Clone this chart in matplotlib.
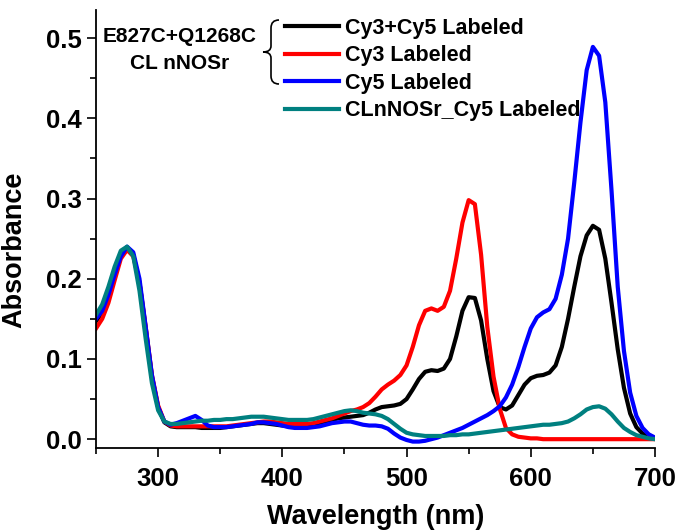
import matplotlib
matplotlib.use("Agg")
import matplotlib.pyplot as plt
from matplotlib.path import Path
from matplotlib.patches import PathPatch
from matplotlib.ticker import MultipleLocator
import numpy as np

plt.rcParams['font.family'] = ['Liberation Sans', 'DejaVu Sans']
plt.rcParams['font.weight'] = 'bold'

# wavelength grid (nm), 250..700 in 5 nm steps
wl = np.arange(250, 701, 5)

# Cy3+Cy5 Labeled
cy35 = [0.147, 0.158, 0.178, 0.205, 0.228, 0.238, 0.230, 0.195, 0.138, 0.078,
        0.040, 0.021, 0.016, 0.015, 0.015, 0.015, 0.015, 0.014, 0.014, 0.014,
        0.014, 0.015, 0.016, 0.017, 0.018, 0.019, 0.020, 0.020, 0.019, 0.018,
        0.017, 0.016, 0.016, 0.016, 0.017, 0.018, 0.020, 0.022, 0.024, 0.026,
        0.027, 0.028, 0.029, 0.030, 0.033, 0.037, 0.040, 0.041, 0.042, 0.044,
        0.050, 0.062, 0.075, 0.084, 0.086, 0.085, 0.088, 0.100, 0.128, 0.160,
        0.177, 0.176, 0.148, 0.100, 0.060, 0.040, 0.037, 0.042, 0.055, 0.068,
        0.076, 0.079, 0.080, 0.083, 0.092, 0.115, 0.150, 0.190, 0.228, 0.254,
        0.266, 0.261, 0.225, 0.170, 0.112, 0.064, 0.032, 0.015, 0.007, 0.003,
        0.001]

# Cy3 Labeled
cy3 = [0.138, 0.150, 0.170, 0.198, 0.225, 0.236, 0.228, 0.195, 0.140, 0.080,
       0.042, 0.022, 0.017, 0.016, 0.016, 0.016, 0.016, 0.016, 0.016, 0.016,
       0.016, 0.016, 0.017, 0.018, 0.019, 0.020, 0.021, 0.022, 0.022, 0.021,
       0.020, 0.019, 0.019, 0.019, 0.019, 0.020, 0.022, 0.024, 0.026, 0.029,
       0.032, 0.035, 0.037, 0.040, 0.045, 0.053, 0.062, 0.068, 0.073, 0.080,
       0.092, 0.115, 0.142, 0.160, 0.163, 0.160, 0.165, 0.185, 0.225, 0.270,
       0.298, 0.293, 0.230, 0.140, 0.078, 0.038, 0.014, 0.006, 0.003, 0.002,
       0.001, 0.001, 0.000, 0.000, 0.000, 0.000, 0.000, 0.000, 0.000, 0.000,
       0.000, 0.000, 0.000, 0.000, 0.000, 0.000, 0.000, 0.000, 0.000, 0.000,
       0.000]

# Cy5 Labeled
cy5 = [0.150, 0.160, 0.180, 0.205, 0.228, 0.240, 0.233, 0.200, 0.140, 0.080,
       0.040, 0.022, 0.018, 0.020, 0.023, 0.026, 0.029, 0.024, 0.017, 0.015,
       0.015, 0.015, 0.016, 0.017, 0.018, 0.019, 0.021, 0.021, 0.020, 0.019,
       0.017, 0.015, 0.014, 0.014, 0.014, 0.015, 0.016, 0.018, 0.020, 0.021,
       0.022, 0.022, 0.020, 0.018, 0.017, 0.017, 0.016, 0.013, 0.007, 0.002,
       -0.001, -0.003, -0.003, -0.002, 0.000, 0.002, 0.005, 0.008, 0.011, 0.014,
       0.018, 0.022, 0.026, 0.030, 0.035, 0.041, 0.052, 0.068, 0.090, 0.115,
       0.138, 0.152, 0.158, 0.162, 0.175, 0.205, 0.250, 0.320, 0.395, 0.460,
       0.489, 0.478, 0.420, 0.310, 0.190, 0.110, 0.058, 0.029, 0.014, 0.006,
       0.002]

# CLnNOSr_Cy5 Labeled
clcy5 = [0.155, 0.168, 0.190, 0.215, 0.235, 0.240, 0.228, 0.185, 0.125, 0.070,
         0.036, 0.022, 0.019, 0.019, 0.020, 0.021, 0.022, 0.023, 0.023, 0.024,
         0.024, 0.025, 0.025, 0.026, 0.027, 0.028, 0.028, 0.028, 0.027, 0.026,
         0.025, 0.024, 0.024, 0.024, 0.024, 0.025, 0.027, 0.029, 0.031, 0.033,
         0.035, 0.036, 0.035, 0.033, 0.032, 0.031, 0.029, 0.025, 0.019, 0.013,
         0.008, 0.006, 0.005, 0.004, 0.004, 0.004, 0.004, 0.005, 0.005, 0.006,
         0.006, 0.007, 0.008, 0.009, 0.010, 0.011, 0.012, 0.013, 0.014, 0.015,
         0.016, 0.017, 0.018, 0.018, 0.019, 0.020, 0.022, 0.026, 0.031, 0.037,
         0.040, 0.041, 0.038, 0.031, 0.022, 0.014, 0.009, 0.005, 0.003, 0.001,
         0.000]

series = [
    (cy35, 'black', 'Cy3+Cy5 Labeled'),
    (cy3, '#ff0000', 'Cy3 Labeled'),
    (cy5, '#0000ff', 'Cy5 Labeled'),
    (clcy5, '#008080', 'CLnNOSr_Cy5 Labeled'),
]

W, H = 677, 530
fig = plt.figure(figsize=(W / 100, H / 100), dpi=100)
ax = fig.add_axes([96 / W, 1 - 448 / H, (655 - 96) / W, (448 - 10) / H])

for y, c, lab in series:
    ax.plot(wl, y, color=c, lw=3, label=lab, solid_joinstyle='round')

ax.set_xlim(250, 700)
ax.set_ylim(-0.011, 0.535)
ax.xaxis.set_major_locator(MultipleLocator(100))
ax.xaxis.set_minor_locator(MultipleLocator(50))
ax.yaxis.set_major_locator(MultipleLocator(0.1))
ax.yaxis.set_minor_locator(MultipleLocator(0.05))
ax.yaxis.set_major_formatter(matplotlib.ticker.FormatStrFormatter('%.1f'))
ax.spines['top'].set_visible(False)
ax.spines['right'].set_visible(False)
for s in ['left', 'bottom']:
    ax.spines[s].set_linewidth(1.3)
ax.tick_params(which='major', direction='out', length=6.5, width=1.2, labelsize=18.5, pad=4)
ax.tick_params(which='minor', direction='out', length=4, width=1.2)
ax.tick_params(axis='x', which='major', pad=7)

ax.set_xlabel('Wavelength (nm)', fontsize=19.5, fontweight='bold')
ax.set_ylabel('Absorbance', fontsize=19.5, fontweight='bold')
ax.xaxis.set_label_coords(0.5, -0.128)
ax.yaxis.set_label_coords(-0.122, 0.452)

leg = ax.legend(loc='upper left', bbox_to_anchor=(285 / W, 1 - 18 / H),
                bbox_transform=fig.transFigure, frameon=False,
                fontsize=15.5, handlelength=2.5, handletextpad=0.3,
                labelspacing=0.3, borderpad=0, borderaxespad=0)
for t in leg.get_texts():
    t.set_fontweight('bold')

fig.text(180 / W, 1 - 50 / H, 'E827C+Q1268C\nCL nNOSr', ha='center', va='center',
         fontsize=15, fontweight='bold', linespacing=1.55)

# curly brace
pts = [(279, 20), (271, 20), (271, 28), (271, 46), (271, 52), (263, 52),
       (271, 52), (271, 58), (271, 76), (271, 84), (279, 84)]
codes = [Path.MOVETO, Path.CURVE3, Path.CURVE3, Path.LINETO, Path.CURVE3, Path.CURVE3,
         Path.CURVE3, Path.CURVE3, Path.LINETO, Path.CURVE3, Path.CURVE3]
verts = [(x / W, 1 - y / H) for x, y in pts]
fig.patches.append(PathPatch(Path(verts, codes), transform=fig.transFigure,
                             fill=False, lw=1.2, color='black'))

fig.savefig('out.png', dpi=100)
